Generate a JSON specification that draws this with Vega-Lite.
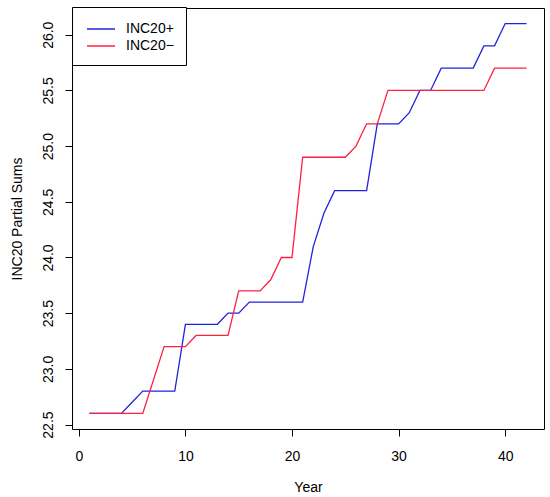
{
  "$schema": "https://vega.github.io/schema/vega-lite/v6.json",
  "width": 472,
  "height": 421,
  "autosize": {"type": "none"},
  "padding": {"left": 72, "top": 8, "right": 6, "bottom": 68},
  "background": "white",
  "config": {
    "font": "Liberation Sans",
    "view": {"stroke": "black", "strokeWidth": 1},
    "axis": {
      "domain": false,
      "grid": false,
      "tickColor": "black",
      "tickSize": 7,
      "labelColor": "black",
      "labelFontSize": 14,
      "titleColor": "black",
      "titleFontSize": 14,
      "titleFontWeight": "normal"
    }
  },
  "data": {
    "values": [
      {"Year": 1, "Series": "INC20+", "Value": 22.6},
      {"Year": 2, "Series": "INC20+", "Value": 22.6},
      {"Year": 3, "Series": "INC20+", "Value": 22.6},
      {"Year": 4, "Series": "INC20+", "Value": 22.6},
      {"Year": 5, "Series": "INC20+", "Value": 22.7},
      {"Year": 6, "Series": "INC20+", "Value": 22.8},
      {"Year": 7, "Series": "INC20+", "Value": 22.8},
      {"Year": 8, "Series": "INC20+", "Value": 22.8},
      {"Year": 9, "Series": "INC20+", "Value": 22.8},
      {"Year": 10, "Series": "INC20+", "Value": 23.4},
      {"Year": 11, "Series": "INC20+", "Value": 23.4},
      {"Year": 12, "Series": "INC20+", "Value": 23.4},
      {"Year": 13, "Series": "INC20+", "Value": 23.4},
      {"Year": 14, "Series": "INC20+", "Value": 23.5},
      {"Year": 15, "Series": "INC20+", "Value": 23.5},
      {"Year": 16, "Series": "INC20+", "Value": 23.6},
      {"Year": 17, "Series": "INC20+", "Value": 23.6},
      {"Year": 18, "Series": "INC20+", "Value": 23.6},
      {"Year": 19, "Series": "INC20+", "Value": 23.6},
      {"Year": 20, "Series": "INC20+", "Value": 23.6},
      {"Year": 21, "Series": "INC20+", "Value": 23.6},
      {"Year": 22, "Series": "INC20+", "Value": 24.1},
      {"Year": 23, "Series": "INC20+", "Value": 24.4},
      {"Year": 24, "Series": "INC20+", "Value": 24.6},
      {"Year": 25, "Series": "INC20+", "Value": 24.6},
      {"Year": 26, "Series": "INC20+", "Value": 24.6},
      {"Year": 27, "Series": "INC20+", "Value": 24.6},
      {"Year": 28, "Series": "INC20+", "Value": 25.2},
      {"Year": 29, "Series": "INC20+", "Value": 25.2},
      {"Year": 30, "Series": "INC20+", "Value": 25.2},
      {"Year": 31, "Series": "INC20+", "Value": 25.3},
      {"Year": 32, "Series": "INC20+", "Value": 25.5},
      {"Year": 33, "Series": "INC20+", "Value": 25.5},
      {"Year": 34, "Series": "INC20+", "Value": 25.7},
      {"Year": 35, "Series": "INC20+", "Value": 25.7},
      {"Year": 36, "Series": "INC20+", "Value": 25.7},
      {"Year": 37, "Series": "INC20+", "Value": 25.7},
      {"Year": 38, "Series": "INC20+", "Value": 25.9},
      {"Year": 39, "Series": "INC20+", "Value": 25.9},
      {"Year": 40, "Series": "INC20+", "Value": 26.1},
      {"Year": 41, "Series": "INC20+", "Value": 26.1},
      {"Year": 42, "Series": "INC20+", "Value": 26.1},
      {"Year": 1, "Series": "INC20−", "Value": 22.6},
      {"Year": 2, "Series": "INC20−", "Value": 22.6},
      {"Year": 3, "Series": "INC20−", "Value": 22.6},
      {"Year": 4, "Series": "INC20−", "Value": 22.6},
      {"Year": 5, "Series": "INC20−", "Value": 22.6},
      {"Year": 6, "Series": "INC20−", "Value": 22.6},
      {"Year": 7, "Series": "INC20−", "Value": 22.9},
      {"Year": 8, "Series": "INC20−", "Value": 23.2},
      {"Year": 9, "Series": "INC20−", "Value": 23.2},
      {"Year": 10, "Series": "INC20−", "Value": 23.2},
      {"Year": 11, "Series": "INC20−", "Value": 23.3},
      {"Year": 12, "Series": "INC20−", "Value": 23.3},
      {"Year": 13, "Series": "INC20−", "Value": 23.3},
      {"Year": 14, "Series": "INC20−", "Value": 23.3},
      {"Year": 15, "Series": "INC20−", "Value": 23.7},
      {"Year": 16, "Series": "INC20−", "Value": 23.7},
      {"Year": 17, "Series": "INC20−", "Value": 23.7},
      {"Year": 18, "Series": "INC20−", "Value": 23.8},
      {"Year": 19, "Series": "INC20−", "Value": 24.0},
      {"Year": 20, "Series": "INC20−", "Value": 24.0},
      {"Year": 21, "Series": "INC20−", "Value": 24.9},
      {"Year": 22, "Series": "INC20−", "Value": 24.9},
      {"Year": 23, "Series": "INC20−", "Value": 24.9},
      {"Year": 24, "Series": "INC20−", "Value": 24.9},
      {"Year": 25, "Series": "INC20−", "Value": 24.9},
      {"Year": 26, "Series": "INC20−", "Value": 25.0},
      {"Year": 27, "Series": "INC20−", "Value": 25.2},
      {"Year": 28, "Series": "INC20−", "Value": 25.2},
      {"Year": 29, "Series": "INC20−", "Value": 25.5},
      {"Year": 30, "Series": "INC20−", "Value": 25.5},
      {"Year": 31, "Series": "INC20−", "Value": 25.5},
      {"Year": 32, "Series": "INC20−", "Value": 25.5},
      {"Year": 33, "Series": "INC20−", "Value": 25.5},
      {"Year": 34, "Series": "INC20−", "Value": 25.5},
      {"Year": 35, "Series": "INC20−", "Value": 25.5},
      {"Year": 36, "Series": "INC20−", "Value": 25.5},
      {"Year": 37, "Series": "INC20−", "Value": 25.5},
      {"Year": 38, "Series": "INC20−", "Value": 25.5},
      {"Year": 39, "Series": "INC20−", "Value": 25.7},
      {"Year": 40, "Series": "INC20−", "Value": 25.7},
      {"Year": 41, "Series": "INC20−", "Value": 25.7},
      {"Year": 42, "Series": "INC20−", "Value": 25.7}
    ]
  },
  "mark": {"type": "line", "strokeWidth": 1.3},
  "encoding": {
    "x": {
      "field": "Year",
      "type": "quantitative",
      "scale": {"domain": [-0.64, 43.64], "nice": false, "zero": false},
      "axis": {
        "values": [0, 10, 20, 30, 40],
        "labelPadding": 13,
        "title": "Year",
        "titleBaseline": "alphabetic",
        "titleAlign": "center",
        "titleX": 236,
        "titleY": 62
      }
    },
    "y": {
      "field": "Value",
      "type": "quantitative",
      "scale": {"domain": [22.46, 26.24], "nice": false, "zero": false},
      "axis": {
        "values": [22.5, 23.0, 23.5, 24.0, 24.5, 25.0, 25.5, 26.0],
        "format": ".1f",
        "labelAngle": -90,
        "labelAlign": "center",
        "labelBaseline": "bottom",
        "labelPadding": 10,
        "title": "INC20 Partial Sums",
        "titleAngle": -90,
        "titleBaseline": "alphabetic",
        "titleAlign": "center",
        "titleX": -50.5,
        "titleY": 210.5
      }
    },
    "color": {
      "field": "Series",
      "type": "nominal",
      "scale": {"domain": ["INC20+", "INC20−"], "range": ["#2222dd", "#ff2040"]},
      "legend": {
        "title": " ",
        "titleFontSize": 2,
        "titlePadding": 0,
        "orient": "none",
        "legendX": 0,
        "legendY": -1,
        "strokeColor": "black",
        "fillColor": "white",
        "padding": 12,
        "symbolType": "M-0.714,0H3.286",
        "symbolSize": 196,
        "symbolStrokeWidth": 1.5,
        "labelOffset": 26,
        "labelFontSize": 14,
        "labelColor": "black",
        "rowPadding": 2
      }
    }
  }
}
